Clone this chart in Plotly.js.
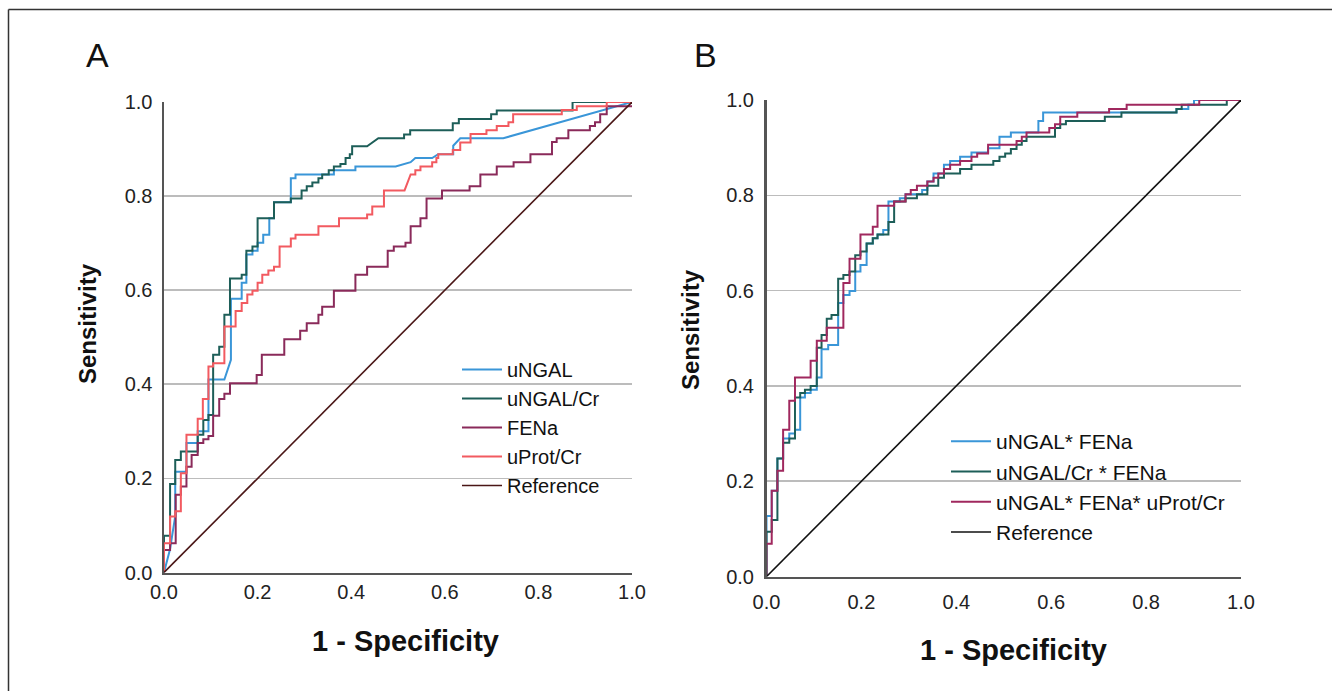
<!DOCTYPE html>
<html>
<head>
<meta charset="utf-8">
<script src="https://cdn.plot.ly/plotly-3.0.1.min.js"></script>
<style>html,body{margin:0;padding:0;background:#fff}#chart{width:1332px;height:691px}</style>
</head>
<body>
<div id="chart"></div>
<script>
// ---------- Panel A ----------
const uNGAL_fpr = [0,0.013,0.024,0.024,0.048,0.048,0.072,0.072,0.095,0.095,0.129,0.143,0.143,0.166,0.166,0.176,0.176,0.189,0.189,0.200,0.200,0.212,0.212,0.225,0.225,0.235,0.235,0.271,0.271,0.281,0.281,0.363,0.363,0.409,0.409,0.495,0.527,0.537,0.573,0.586,0.618,0.618,0.633,0.725,1];
const uNGAL_tpr = [0,0.050,0.120,0.214,0.214,0.275,0.275,0.300,0.300,0.410,0.410,0.452,0.582,0.582,0.616,0.616,0.676,0.676,0.684,0.684,0.701,0.701,0.718,0.718,0.753,0.753,0.787,0.787,0.838,0.838,0.846,0.846,0.855,0.855,0.863,0.863,0.872,0.881,0.881,0.889,0.889,0.907,0.923,0.923,1];

const uNGALCr_fpr = [0,0,0.013,0.013,0.024,0.024,0.036,0.036,0.072,0.072,0.084,0.084,0.095,0.095,0.105,0.105,0.118,0.118,0.129,0.129,0.141,0.141,0.166,0.166,0.176,0.176,0.189,0.189,0.200,0.200,0.235,0.235,0.271,0.271,0.294,0.294,0.305,0.305,0.317,0.317,0.330,0.330,0.338,0.338,0.352,0.352,0.363,0.363,0.377,0.377,0.388,0.388,0.397,0.397,0.402,0.402,0.434,0.458,0.513,0.513,0.526,0.526,0.617,0.617,0.630,0.630,0.699,0.699,0.711,0.711,0.873,0.873,1];
const uNGALCr_tpr = [0,0.078,0.078,0.188,0.188,0.239,0.239,0.257,0.257,0.293,0.293,0.324,0.324,0.335,0.335,0.463,0.463,0.480,0.480,0.548,0.548,0.625,0.625,0.633,0.633,0.684,0.684,0.693,0.693,0.753,0.753,0.787,0.787,0.795,0.795,0.812,0.812,0.821,0.821,0.829,0.829,0.838,0.838,0.846,0.846,0.855,0.855,0.863,0.863,0.868,0.868,0.881,0.881,0.889,0.889,0.906,0.906,0.923,0.923,0.931,0.931,0.940,0.940,0.955,0.955,0.964,0.964,0.974,0.974,0.982,0.982,1,1];

const FENa_fpr = [0,0,0.013,0.013,0.025,0.025,0.036,0.036,0.048,0.048,0.059,0.059,0.072,0.072,0.084,0.084,0.095,0.095,0.105,0.105,0.118,0.118,0.129,0.129,0.141,0.141,0.198,0.198,0.209,0.209,0.257,0.257,0.291,0.291,0.305,0.305,0.330,0.330,0.338,0.338,0.363,0.363,0.409,0.409,0.434,0.434,0.478,0.478,0.491,0.491,0.516,0.516,0.527,0.527,0.548,0.548,0.561,0.561,0.594,0.594,0.653,0.653,0.676,0.676,0.711,0.711,0.747,0.747,0.783,0.783,0.829,0.829,0.839,0.839,0.864,0.864,0.910,0.910,0.921,0.921,0.932,0.932,0.946,0.946,1];
const FENa_tpr = [0,0.048,0.048,0.062,0.062,0.165,0.165,0.183,0.183,0.225,0.225,0.250,0.250,0.275,0.275,0.283,0.283,0.290,0.290,0.333,0.333,0.369,0.369,0.380,0.380,0.402,0.402,0.420,0.420,0.463,0.463,0.496,0.496,0.514,0.514,0.530,0.530,0.548,0.548,0.565,0.565,0.599,0.599,0.633,0.633,0.650,0.650,0.684,0.684,0.693,0.693,0.701,0.701,0.736,0.736,0.753,0.753,0.795,0.795,0.812,0.812,0.821,0.821,0.846,0.846,0.863,0.863,0.872,0.872,0.889,0.889,0.915,0.915,0.923,0.923,0.940,0.940,0.949,0.949,0.957,0.957,0.974,0.974,0.991,0.991,1];

const uProtCr_fpr = [0,0,0.013,0.013,0.024,0.024,0.036,0.036,0.048,0.048,0.072,0.072,0.083,0.083,0.095,0.095,0.105,0.105,0.129,0.129,0.153,0.153,0.166,0.166,0.178,0.178,0.189,0.189,0.200,0.200,0.210,0.210,0.223,0.223,0.235,0.235,0.247,0.247,0.271,0.271,0.281,0.281,0.330,0.330,0.374,0.374,0.434,0.434,0.445,0.445,0.470,0.470,0.514,0.527,0.537,0.537,0.548,0.548,0.573,0.573,0.582,0.582,0.586,0.586,0.617,0.617,0.633,0.633,0.655,0.655,0.689,0.689,0.711,0.711,0.736,0.736,0.746,0.746,0.850,0.850,0.882,0.882,0.946,0.946,1];
const uProtCr_tpr = [0,0.062,0.062,0.119,0.119,0.130,0.130,0.211,0.211,0.293,0.293,0.327,0.327,0.369,0.369,0.438,0.438,0.445,0.445,0.523,0.523,0.556,0.556,0.573,0.573,0.591,0.591,0.599,0.599,0.616,0.616,0.633,0.633,0.642,0.642,0.650,0.650,0.693,0.693,0.710,0.710,0.718,0.718,0.736,0.736,0.753,0.753,0.761,0.761,0.778,0.778,0.812,0.812,0.846,0.846,0.855,0.855,0.863,0.863,0.872,0.872,0.881,0.881,0.889,0.889,0.898,0.898,0.914,0.914,0.932,0.932,0.940,0.940,0.949,0.949,0.957,0.957,0.974,0.974,0.983,0.983,0.991,0.991,1,1];

const refA_fpr = [0,1];
const refA_tpr = [0,1];

// ---------- Panel B ----------
const b1_fpr = [0,0,0.011,0.011,0.023,0.023,0.035,0.035,0.048,0.048,0.060,0.060,0.071,0.071,0.081,0.081,0.093,0.093,0.106,0.106,0.116,0.116,0.130,0.130,0.151,0.151,0.162,0.162,0.175,0.175,0.187,0.187,0.198,0.198,0.211,0.211,0.224,0.224,0.234,0.234,0.246,0.246,0.257,0.257,0.281,0.281,0.293,0.293,0.328,0.328,0.339,0.339,0.352,0.352,0.374,0.374,0.387,0.387,0.408,0.408,0.432,0.432,0.467,0.467,0.491,0.491,0.515,0.515,0.573,0.573,0.583,0.583,0.864,0.864,0.889,0.889,0.901,0.901,1];
const b1_tpr = [0,0.127,0.127,0.180,0.180,0.248,0.248,0.290,0.290,0.300,0.300,0.308,0.308,0.376,0.376,0.385,0.385,0.392,0.392,0.418,0.418,0.477,0.477,0.486,0.486,0.574,0.574,0.591,0.591,0.599,0.599,0.640,0.640,0.654,0.654,0.699,0.699,0.710,0.710,0.718,0.718,0.727,0.727,0.787,0.787,0.794,0.794,0.802,0.802,0.811,0.811,0.829,0.829,0.846,0.846,0.864,0.864,0.872,0.872,0.881,0.881,0.890,0.890,0.899,0.899,0.923,0.923,0.932,0.932,0.956,0.956,0.974,0.974,0.981,0.981,0.990,0.990,1,1];

const b2_fpr = [0,0,0.011,0.011,0.023,0.023,0.035,0.035,0.048,0.048,0.060,0.060,0.071,0.071,0.081,0.081,0.093,0.093,0.106,0.106,0.116,0.116,0.127,0.127,0.137,0.137,0.151,0.151,0.162,0.162,0.175,0.175,0.187,0.187,0.198,0.198,0.211,0.211,0.224,0.224,0.234,0.234,0.257,0.257,0.269,0.269,0.293,0.293,0.317,0.317,0.339,0.339,0.362,0.362,0.374,0.374,0.408,0.408,0.432,0.432,0.478,0.478,0.491,0.491,0.503,0.503,0.515,0.515,0.527,0.527,0.538,0.538,0.548,0.548,0.608,0.608,0.619,0.619,0.631,0.631,0.713,0.713,0.748,0.748,0.864,0.864,0.875,0.875,0.970,0.970,1];
const b2_tpr = [0,0.094,0.094,0.119,0.119,0.248,0.248,0.281,0.281,0.290,0.290,0.376,0.376,0.385,0.385,0.392,0.392,0.400,0.400,0.480,0.480,0.507,0.507,0.541,0.541,0.549,0.549,0.625,0.625,0.633,0.633,0.640,0.640,0.674,0.674,0.682,0.682,0.699,0.699,0.710,0.710,0.718,0.718,0.744,0.744,0.787,0.787,0.794,0.794,0.802,0.802,0.820,0.820,0.837,0.837,0.846,0.846,0.855,0.855,0.864,0.864,0.872,0.872,0.881,0.881,0.888,0.888,0.897,0.897,0.906,0.906,0.914,0.914,0.923,0.923,0.941,0.941,0.949,0.949,0.956,0.956,0.965,0.965,0.974,0.974,0.981,0.981,0.990,0.990,1,1];

const b3_fpr = [0,0,0.011,0.011,0.023,0.023,0.035,0.035,0.048,0.048,0.060,0.060,0.093,0.093,0.106,0.106,0.127,0.127,0.162,0.162,0.175,0.175,0.198,0.198,0.224,0.224,0.234,0.234,0.269,0.269,0.293,0.293,0.304,0.304,0.317,0.317,0.339,0.339,0.352,0.352,0.362,0.362,0.374,0.374,0.387,0.387,0.408,0.408,0.432,0.432,0.444,0.444,0.467,0.467,0.527,0.527,0.538,0.538,0.548,0.548,0.596,0.596,0.608,0.608,0.619,0.619,0.655,0.655,0.722,0.722,0.759,0.759,0.912,0.912,1];
const b3_tpr = [0,0.069,0.069,0.180,0.180,0.222,0.222,0.308,0.308,0.369,0.369,0.418,0.418,0.453,0.453,0.495,0.495,0.522,0.522,0.616,0.616,0.667,0.667,0.718,0.718,0.734,0.734,0.778,0.778,0.787,0.787,0.802,0.802,0.811,0.811,0.820,0.820,0.829,0.829,0.837,0.837,0.846,0.846,0.855,0.855,0.864,0.864,0.872,0.872,0.881,0.881,0.888,0.888,0.906,0.906,0.914,0.914,0.923,0.923,0.932,0.932,0.941,0.941,0.949,0.949,0.965,0.965,0.974,0.974,0.981,0.981,0.990,0.990,1,1];

const refB_fpr = [0,1];
const refB_tpr = [0,1];

const tickVals = [0,0.2,0.4,0.6,0.8,1.0];
const tickText = ['0.0','0.2','0.4','0.6','0.8','1.0'];

const namesA = ['uNGAL','uNGAL/Cr','FENa','uProt/Cr','Reference'];
const namesB = ['uNGAL* FENa','uNGAL/Cr * FENa','uNGAL* FENa* uProt/Cr','Reference'];

const FONT = '"Liberation Sans", Arial, Helvetica, sans-serif';

function tr(x, y, name, color, w, xa, ya, lg) {
  return {x: x, y: y, name: name, type: 'scatter', mode: 'lines',
    line: {color: color, width: w, shape: 'linear'},
    xaxis: xa, yaxis: ya, legend: lg, cliponaxis: false, hoverinfo: 'skip'};
}

const data = [
  tr(uNGAL_fpr, uNGAL_tpr, namesA[0], '#3a96d8', 2, 'x', 'y', 'legend'),
  tr(uNGALCr_fpr, uNGALCr_tpr, namesA[1], '#1d5e58', 2, 'x', 'y', 'legend'),
  tr(FENa_fpr, FENa_tpr, namesA[2], '#8a2a5a', 2, 'x', 'y', 'legend'),
  tr(uProtCr_fpr, uProtCr_tpr, namesA[3], '#f25a60', 2, 'x', 'y', 'legend'),
  tr(refA_fpr, refA_tpr, namesA[4], '#4a1616', 1.6, 'x', 'y', 'legend'),
  tr(b1_fpr, b1_tpr, namesB[0], '#3a96d8', 2, 'x2', 'y2', 'legend2'),
  tr(b2_fpr, b2_tpr, namesB[1], '#1d5e58', 2, 'x2', 'y2', 'legend2'),
  tr(b3_fpr, b3_tpr, namesB[2], '#a0285e', 2, 'x2', 'y2', 'legend2'),
  tr(refB_fpr, refB_tpr, namesB[3], '#111111', 1.6, 'x2', 'y2', 'legend2')
];

function xax(domain, anchor, tl) {
  return {domain: domain, anchor: anchor, range: [0, 1], tickvals: tickVals, ticktext: tickText,
    showgrid: false, zeroline: false, showline: true, linecolor: '#555', linewidth: 2.5,
    ticks: tl > 0 ? 'outside' : '', ticklen: tl, tickcolor: 'rgba(0,0,0,0)',
    tickfont: {family: FONT, size: 20, color: '#222'}, fixedrange: true};
}
function yax(domain, anchor, tl) {
  return {domain: domain, anchor: anchor, range: [0, 1], tickvals: tickVals, ticktext: tickText,
    showgrid: true, gridcolor: '#bcbcbc', gridwidth: 1.6, zeroline: false,
    showline: true, linecolor: '#555', linewidth: 2.5,
    ticks: 'outside', ticklen: tl, tickcolor: 'rgba(0,0,0,0)',
    tickfont: {family: FONT, size: 20, color: '#222'}, fixedrange: true};
}

const W = 1332, H = 691;
const px = v => v / W, py = v => 1 - v / H;

function ann(text, x, y, size, angle) {
  return {text: text, x: px(x), y: py(y), xref: 'paper', yref: 'paper', showarrow: false,
    xanchor: 'center', yanchor: 'middle', textangle: angle || 0,
    font: {family: FONT, size: size, color: '#111'}};
}

const layout = {
  width: W, height: H, margin: {l: 0, r: 0, t: 0, b: 0},
  paper_bgcolor: '#fff', plot_bgcolor: '#fff', showlegend: true,
  font: {family: FONT, color: '#111'},
  xaxis: xax([px(164), px(632)], 'y', 0),
  yaxis: yax([py(572.5), py(102)], 'x', 5),
  xaxis2: xax([px(766.5), px(1241)], 'y2', 6),
  yaxis2: yax([py(576.6), py(100)], 'x2', 6),
  legend: {x: px(457), y: py(350), xanchor: 'left', yanchor: 'top', bgcolor: 'rgba(0,0,0,0)',
    itemwidth: 40, font: {family: FONT, size: 20, color: '#111'}, tracegroupgap: 0},
  legend2: {x: px(946), y: py(421), xanchor: 'left', yanchor: 'top', bgcolor: 'rgba(0,0,0,0)',
    itemwidth: 40, font: {family: FONT, size: 21, color: '#111'}, tracegroupgap: 0},
  annotations: [
    ann('A', 97, 55, 34),
    ann('B', 705, 55, 34),
    ann('<b>Sensitivity</b>', 88, 324, 24, -90),
    ann('<b>Sensitivity</b>', 690, 330, 24, -90),
    ann('<b>1 - Specificity</b>', 405, 641, 29),
    ann('<b>1 - Specificity</b>', 1013, 650, 29)
  ],
  shapes: [
    {type: 'line', xref: 'paper', yref: 'paper', x0: px(8.5), x1: 1, y0: py(9.5), y1: py(9.5),
      line: {color: '#333', width: 1.5}},
    {type: 'line', xref: 'paper', yref: 'paper', x0: px(8.5), x1: px(8.5), y0: py(9.5), y1: 0,
      line: {color: '#333', width: 1.5}}
  ]
};

Plotly.newPlot('chart', data, layout, {staticPlot: true, displayModeBar: false});
</script>
</body>
</html>
